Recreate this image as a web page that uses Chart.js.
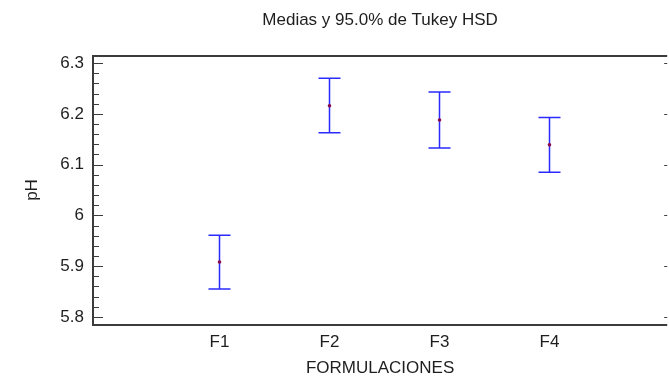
<!DOCTYPE html>
<html>
<head>
<meta charset="utf-8">
<script src="https://cdn.jsdelivr.net/npm/chart.js@4.4.1/dist/chart.umd.min.js"></script>
<style>
  html, body { margin: 0; padding: 0; background: #fff; }
  #wrap { width: 669px; height: 376px; }
</style>
</head>
<body>
<div id="wrap"><canvas id="tukeyChart"></canvas></div>
<script>
// datos
var formulaciones = ['F1', 'F2', 'F3', 'F4'];
var medias = [5.908, 6.216, 6.188, 6.139];
var limiteInf = [5.855, 6.163, 6.133, 6.085];
var limiteSup = [5.961, 6.270, 6.243, 6.193];
var ticksY = [5.8, 5.9, 6.0, 6.1, 6.2, 6.3];

var fuente = "'Liberation Sans', Arial, sans-serif";
var colorTexto = '#1e1e1e';
var colorMarco = '#3c3c3c';

// barras de error de Tukey (debajo de los puntos)
var barrasError = {
    id: 'barrasError',
    beforeDatasetsDraw: function(chart) {
        var ctx = chart.ctx;
        var x = chart.scales.x, y = chart.scales.y;
        ctx.save();
        ctx.strokeStyle = '#2b2bff';
        ctx.lineWidth = 1.5;
        for (var i = 0; i < formulaciones.length; i++) {
            var px = x.getPixelForValue(i + 1);
            var pLo = y.getPixelForValue(limiteInf[i]);
            var pHi = y.getPixelForValue(limiteSup[i]);
            ctx.beginPath();
            ctx.moveTo(px, pLo); ctx.lineTo(px, pHi);
            ctx.moveTo(px - 11, pLo); ctx.lineTo(px + 11, pLo);
            ctx.moveTo(px - 11, pHi); ctx.lineTo(px + 11, pHi);
            ctx.stroke();
        }
        ctx.restore();
    }
};

// marco y marcas de los ejes
var marco = {
    id: 'marco',
    afterDraw: function(chart) {
        var ctx = chart.ctx;
        var a = chart.chartArea;
        var y = chart.scales.y;
        ctx.save();
        ctx.strokeStyle = colorMarco;
        ctx.lineWidth = 2;
        ctx.beginPath();
        ctx.moveTo(a.right, a.top + 1); ctx.lineTo(a.left, a.top + 1);
        ctx.lineTo(a.left, a.bottom); ctx.lineTo(a.right, a.bottom);
        ctx.stroke();
        ctx.lineWidth = 1;
        ctx.beginPath();
        for (var k = 0; k < ticksY.length; k++) {
            var py = Math.round(y.getPixelForValue(ticksY[k])) + 0.5;
            ctx.moveTo(a.left, py); ctx.lineTo(a.left + 10, py);
            ctx.moveTo(a.right, py); ctx.lineTo(a.right - 3, py);
            if (k < ticksY.length - 1) {
                for (var m = 1; m < 5; m++) {
                    var v = ticksY[k] + (ticksY[k + 1] - ticksY[k]) * m / 5;
                    var pm = Math.round(y.getPixelForValue(v)) + 0.5;
                    ctx.moveTo(a.left, pm); ctx.lineTo(a.left + 6, pm);
                }
            }
        }
        ctx.stroke();
        ctx.restore();
    }
};

var ctx = document.getElementById('tukeyChart').getContext('2d');
var tukeyChart = new Chart(ctx, {
    type: 'scatter',
    data: {
        datasets: [{
            label: 'Medias',
            data: medias.map(function(m, i) { return { x: i + 1, y: m }; }),
            pointRadius: 1.8,
            pointHoverRadius: 1.8,
            pointBackgroundColor: '#8a0a4a',
            pointBorderColor: '#8a0a4a',
            pointBorderWidth: 0
        }]
    },
    options: {
        responsive: true,
        maintainAspectRatio: false,
        animation: false,
        layout: { padding: 0 },
        plugins: {
            legend: { display: false },
            tooltip: { enabled: false },
            title: {
                display: true,
                fullSize: false,
                text: 'Medias y 95.0% de Tukey HSD',
                color: colorTexto,
                font: { family: fuente, size: 17, weight: 'normal' },
                padding: { top: 10, bottom: 24.6 }
            }
        },
        scales: {
            x: {
                type: 'linear',
                min: -0.15,
                max: 5.07,
                grid: { display: false, drawTicks: false },
                border: { display: false },
                afterBuildTicks: function(scale) {
                    scale.ticks = formulaciones.map(function(c, i) { return { value: i + 1 }; });
                },
                afterFit: function(scale) { scale.height = 51; },
                ticks: {
                    color: colorTexto,
                    font: { family: fuente, size: 17 },
                    padding: 7,
                    maxRotation: 0,
                    autoSkip: false,
                    callback: function(v) { return formulaciones[v - 1]; }
                },
                title: {
                    display: true,
                    text: 'FORMULACIONES',
                    color: colorTexto,
                    font: { family: fuente, size: 17 },
                    padding: { top: -3, bottom: -3 }
                }
            },
            y: {
                min: 5.784,
                max: 6.316,
                grid: { display: false, drawTicks: false },
                border: { display: false },
                afterBuildTicks: function(scale) {
                    scale.ticks = ticksY.map(function(v) { return { value: v }; });
                },
                afterFit: function(scale) { scale.width = 93; },
                ticks: {
                    color: colorTexto,
                    font: { family: fuente, size: 17 },
                    padding: 9,
                    callback: function(v) { return String(Number(v.toFixed(1))); }
                },
                title: {
                    display: true,
                    text: 'pH',
                    color: colorTexto,
                    font: { family: fuente, size: 17 },
                    padding: { top: 22, bottom: 0 }
                }
            }
        }
    },
    plugins: [barrasError, marco]
});
</script>
</body>
</html>
